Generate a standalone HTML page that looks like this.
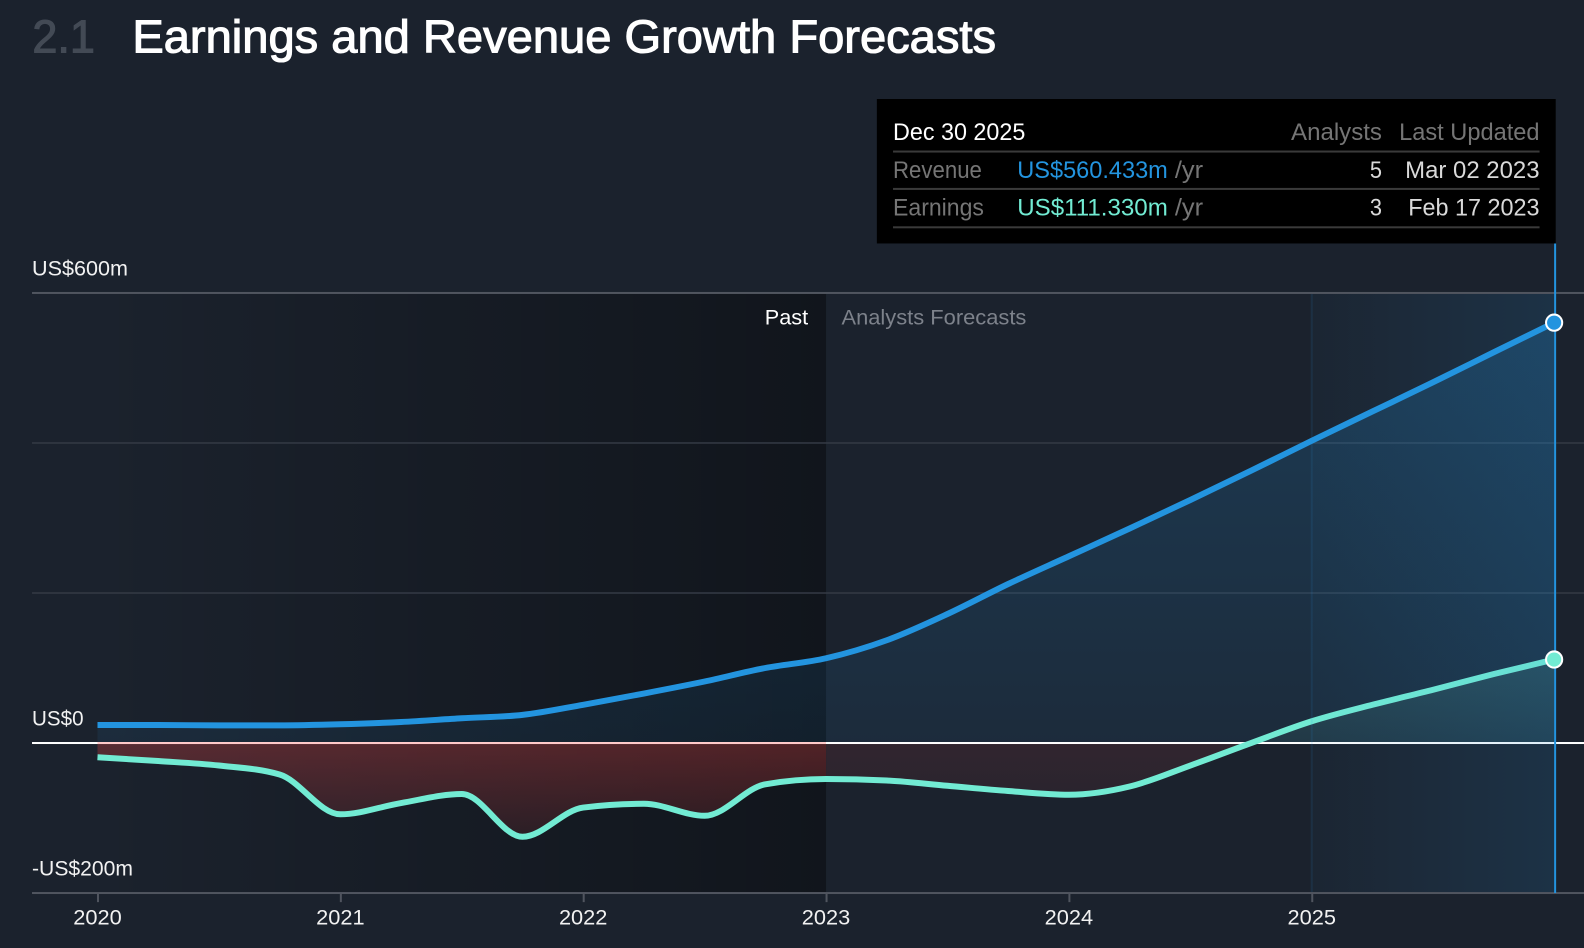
<!DOCTYPE html>
<html lang="en">
<head>
<meta charset="utf-8">
<title>Earnings and Revenue Growth Forecasts</title>
<style>
html,body{margin:0;padding:0;width:1584px;height:948px;background:#1b222d;overflow:hidden}
svg{display:block}
text{font-family:"Liberation Sans",sans-serif}
.ax{font-size:21.5px;fill:#f2f2f2}
.tt{font-size:23.5px}
</style>
</head>
<body>
<svg id="chart" width="1584" height="948" viewBox="0 0 1568 938.4" xmlns="http://www.w3.org/2000/svg">
<defs>
<linearGradient id="pastGrad" x1="0" x2="1" y1="0" y2="0">
<stop offset="0" stop-color="#000" stop-opacity="0"/>
<stop offset="1" stop-color="#000" stop-opacity="0.38"/>
</linearGradient>
<linearGradient id="finalGrad" x1="0" x2="1" y1="0" y2="0">
<stop offset="0" stop-color="#2394df" stop-opacity="0.03"/>
<stop offset="1" stop-color="#2394df" stop-opacity="0.14"/>
</linearGradient>
<linearGradient id="revGrad" x1="0" x2="0" y1="0" y2="1">
<stop offset="0" stop-color="#2394df" stop-opacity="0.22"/>
<stop offset="1" stop-color="#2394df" stop-opacity="0.08"/>
</linearGradient>
<linearGradient id="lossGrad" gradientUnits="userSpaceOnUse" x1="0" x2="0" y1="0" y2="1">
<stop offset="0" stop-color="#e8413f" stop-opacity="0.3"/>
<stop offset="1" stop-color="#e8413f" stop-opacity="0.1"/>
</linearGradient>
<linearGradient id="lossGradF" gradientUnits="userSpaceOnUse" x1="0" x2="0" y1="0" y2="1">
<stop offset="0" stop-color="#e8413f" stop-opacity="0.11"/>
<stop offset="1" stop-color="#e8413f" stop-opacity="0.04"/>
</linearGradient>
<linearGradient id="gainGrad" gradientUnits="userSpaceOnUse" x1="0" x2="0" y1="0" y2="1">
<stop offset="0" stop-color="#72ebd3" stop-opacity="0.14"/>
<stop offset="1" stop-color="#72ebd3" stop-opacity="0.07"/>
</linearGradient>
<clipPath id="clipPast"><rect id="clipPastRect" x="0" y="0" width="0" height="0"/></clipPath>
<clipPath id="clipFuture"><rect id="clipFutureRect" x="0" y="0" width="0" height="0"/></clipPath>
<clipPath id="clipGain"><rect id="clipGainRect" x="0" y="0" width="0" height="0"/></clipPath>
</defs>

<text x="32" y="52" font-size="46" fill="#434a55" stroke="#434a55" stroke-width="1.1" textLength="62" lengthAdjust="spacingAndGlyphs">2.1</text>
<text x="131" y="52" font-size="46" fill="#ffffff" stroke="#ffffff" stroke-width="1.1" textLength="855" lengthAdjust="spacingAndGlyphs">Earnings and Revenue Growth Forecasts</text>

<g id="bands"></g>
<g id="grid"></g>
<g id="areas"></g>
<g id="axisLayer"></g>
<g id="lines"></g>

<text x="757" y="321" font-size="21.5" fill="#ffffff" textLength="43" lengthAdjust="spacingAndGlyphs">Past</text>
<text x="833" y="321" font-size="21.5" fill="#7d828b" textLength="183" lengthAdjust="spacingAndGlyphs">Analysts Forecasts</text>

<g>
<rect x="868" y="98" width="672" height="143" fill="#000000"/>
<text class="tt" x="884" y="138.5" fill="#ffffff" textLength="131" lengthAdjust="spacingAndGlyphs">Dec 30 2025</text>
<text class="tt" x="1278" y="138.5" fill="#757575" textLength="90" lengthAdjust="spacingAndGlyphs">Analysts</text>
<text class="tt" x="1385" y="138.5" fill="#757575" textLength="139" lengthAdjust="spacingAndGlyphs">Last Updated</text>
<rect x="884" y="149" width="640" height="2" fill="#3a3a3a"/>
<text class="tt" x="884" y="176" fill="#757575" textLength="88" lengthAdjust="spacingAndGlyphs">Revenue</text>
<text class="tt" x="1007" y="176" fill="#2394df" textLength="149" lengthAdjust="spacingAndGlyphs">US$560.433m</text>
<text class="tt" x="1163" y="176" fill="#757575" textLength="28" lengthAdjust="spacingAndGlyphs">/yr</text>
<text class="tt" x="1356" y="176" fill="#d9d9d9" textLength="12" lengthAdjust="spacingAndGlyphs">5</text>
<text class="tt" x="1391" y="176" fill="#d9d9d9" textLength="133" lengthAdjust="spacingAndGlyphs">Mar 02 2023</text>
<rect x="884" y="186" width="640" height="2" fill="#3a3a3a"/>
<text class="tt" x="884" y="213.5" fill="#757575" textLength="90" lengthAdjust="spacingAndGlyphs">Earnings</text>
<text class="tt" x="1007" y="213.5" fill="#72ebd3" textLength="149" lengthAdjust="spacingAndGlyphs">US$111.330m</text>
<text class="tt" x="1163" y="213.5" fill="#757575" textLength="28" lengthAdjust="spacingAndGlyphs">/yr</text>
<text class="tt" x="1356" y="213.5" fill="#d9d9d9" textLength="12" lengthAdjust="spacingAndGlyphs">3</text>
<text class="tt" x="1394" y="213.5" fill="#d9d9d9" textLength="130" lengthAdjust="spacingAndGlyphs">Feb 17 2023</text>
<rect x="884" y="224" width="640" height="2" fill="#3a3a3a"/>
</g>
</svg>

<script>
const dates = [2020,2020.25,2020.5,2020.75,2021,2021.25,2021.5,2021.75,2022,2022.25,2022.5,2022.75,2023,2023.25,2023.5,2023.75,2024,2024.25,2024.5,2024.75,2025,2025.25,2025.5,2025.75,2025.998];
const revenue = [24,24,23.5,23.5,25,28,33,37.5,51,66,82,100,113,137,172,212,249,286,324,363,403,442,481,521,560.433];
const earnings = [-19,-24,-30,-42,-95,-80,-68,-125,-86,-81,-97,-55,-48,-50,-57,-64,-69,-58,-30,0,29,51,71,92,111.33];
const yTickValues = [600,0,-200];
const yTickLabels = ['US$600m','US$0','-US$200m'];
const yTickWidths = [95,51,100];
const gridValues = [400,200];
const xTickValues = [2020,2021,2022,2023,2024,2025];
const forecastStart = 2023;
const finalYearStart = 2025;
const cursorDate = 2025.998;

const NS = 'http://www.w3.org/2000/svg';
const x = d => 96.5 + (d - 2020) * 240.4;
const y = v => 735.5 - v * 0.7425;
const plotLeft = 31.7, plotRight = 1568;

function make(tag, parent, attrs) {
  const el = document.createElementNS(NS, tag);
  for (const k in attrs) el.setAttribute(k, attrs[k]);
  parent.appendChild(el);
  return el;
}

// monotone cubic interpolation (monotoneX)
function monotone(xs, ys) {
  const n = xs.length, h = [], s = [], t = [];
  for (let i = 0; i < n - 1; i++) { h[i] = xs[i+1]-xs[i]; s[i] = (ys[i+1]-ys[i])/h[i]; }
  for (let i = 1; i < n - 1; i++) {
    if (s[i-1]*s[i] <= 0) { t[i] = 0; continue; }
    const p = (s[i-1]*h[i] + s[i]*h[i-1])/(h[i-1]+h[i]);
    t[i] = (Math.sign(s[i-1])+Math.sign(s[i])) * Math.min(Math.abs(s[i-1]),Math.abs(s[i]),0.5*Math.abs(p));
  }
  t[0] = (3*s[0]-t[1])/2;
  t[n-1] = (3*s[n-2]-t[n-2])/2;
  let d = 'M' + xs[0] + ',' + ys[0];
  for (let i = 0; i < n - 1; i++) {
    const dx = h[i]/3;
    d += 'C' + (xs[i]+dx) + ',' + (ys[i]+dx*t[i]) + ' ' + (xs[i+1]-dx) + ',' + (ys[i+1]-dx*t[i+1]) + ' ' + xs[i+1] + ',' + ys[i+1];
  }
  return d;
}

const top600 = y(600), bottom = y(-200), zero = y(0);
const xs = dates.map(x);
const revPath = monotone(xs, revenue.map(y));
const earnPath = monotone(xs, earnings.map(y));
const close = ' L' + xs[xs.length-1] + ',' + zero + ' L' + xs[0] + ',' + zero + ' Z';

// gradients anchored to the value scale
['lossGrad','lossGradF'].forEach(id => {
  const g = document.getElementById(id);
  g.setAttribute('y1', zero);
  g.setAttribute('y2', y(Math.min.apply(null, earnings)));
});
const gainG = document.getElementById('gainGrad');
gainG.setAttribute('y1', y(earnings[earnings.length-1]));
gainG.setAttribute('y2', zero);

// clip rectangles derived from the scales
const cp = document.getElementById('clipPastRect');
cp.setAttribute('x', x(2020)); cp.setAttribute('y', zero); cp.setAttribute('width', x(forecastStart)-x(2020)); cp.setAttribute('height', bottom-zero);
const cf = document.getElementById('clipFutureRect');
cf.setAttribute('x', x(forecastStart)); cf.setAttribute('y', zero); cf.setAttribute('width', x(cursorDate)-x(forecastStart)); cf.setAttribute('height', bottom-zero);
const cg = document.getElementById('clipGainRect');
cg.setAttribute('x', x(2020)); cg.setAttribute('y', top600); cg.setAttribute('width', x(cursorDate)-x(2020)); cg.setAttribute('height', zero-top600);

// background band
const bands = document.getElementById('bands');
const pastBand = make('rect', bands, {x:x(2020), y:top600, width:x(forecastStart)-x(2020), height:bottom-top600, fill:'url(#pastGrad)'});



// grid
const grid = document.getElementById('grid');
gridValues.forEach(v => {
  const g = make('rect', grid, {x:plotLeft, y:y(v)-0.75, width:plotRight-plotLeft, height:1.5, fill:'#343a45'});
  
  
});

// areas
const areas = document.getElementById('areas');
const revArea = make('path', areas, {d:revPath+close, fill:'url(#revGrad)'});


const lossPast = make('path', areas, {d:earnPath+close, fill:'url(#lossGrad)', 'clip-path':'url(#clipPast)'});


const lossFuture = make('path', areas, {d:earnPath+close, fill:'url(#lossGradF)', 'clip-path':'url(#clipFuture)'});


const gainArea = make('path', areas, {d:earnPath+close, fill:'url(#gainGrad)', 'clip-path':'url(#clipGain)'});



// axes
const axisLayer = document.getElementById('axisLayer');
yTickValues.forEach((v, i) => {
  const isZero = v === 0;
  const line = make('rect', axisLayer, {x:plotLeft, y:y(v)-0.99, width:plotRight-plotLeft, height:1.98, fill:isZero ? '#ffffff' : '#50555f'});
  
  
  const t = make('text', axisLayer, {x:plotLeft, y:y(v)-17.5, class:'ax', textLength:yTickWidths[i], lengthAdjust:'spacingAndGlyphs'});
  
  
  t.textContent = yTickLabels[i];
});
const zeroTint = make('rect', axisLayer, {x:x(2020), y:zero-0.99, width:x(forecastStart)-x(2020), height:1.98, fill:'#ffc9c9'});


xTickValues.forEach(v => {
  const tick = make('rect', axisLayer, {x:x(v)-0.49, y:bottom, width:1.98, height:9, fill:'#50555f'});
  
  
  const t = make('text', axisLayer, {x:x(v), y:915, class:'ax', 'text-anchor':'middle', textLength:48, lengthAdjust:'spacingAndGlyphs'});
  
  
  t.textContent = String(v);
});

// lines, final-year overlay, cursor and markers
const lines = document.getElementById('lines');
const revLine = make('path', lines, {d:revPath, fill:'none', stroke:'#2394df', 'stroke-width':5.9});


const earnLine = make('path', lines, {d:earnPath, fill:'none', stroke:'#72ebd3', 'stroke-width':5.9});


const finalBand = make('rect', lines, {x:x(finalYearStart)-1, y:top600+1, width:x(cursorDate)-x(finalYearStart)+1, height:bottom-top600-2, fill:'url(#finalGrad)'});


const finalEdge = make('rect', lines, {x:x(finalYearStart)-1, y:top600+1, width:2, height:bottom-top600-2, fill:'#2394df', 'fill-opacity':0.1});


const cursor = make('rect', lines, {x:x(cursorDate), y:241, width:1.98, height:bottom-241, fill:'#2394df'});


const revDot = make('circle', lines, {cx:x(cursorDate), cy:y(revenue[revenue.length-1]), r:8, fill:'#2394df', stroke:'#ffffff', 'stroke-width':2});


const earnDot = make('circle', lines, {cx:x(cursorDate), cy:y(earnings[earnings.length-1]), r:8, fill:'#72ebd3', stroke:'#ffffff', 'stroke-width':2});


</script>
</body>
</html>
